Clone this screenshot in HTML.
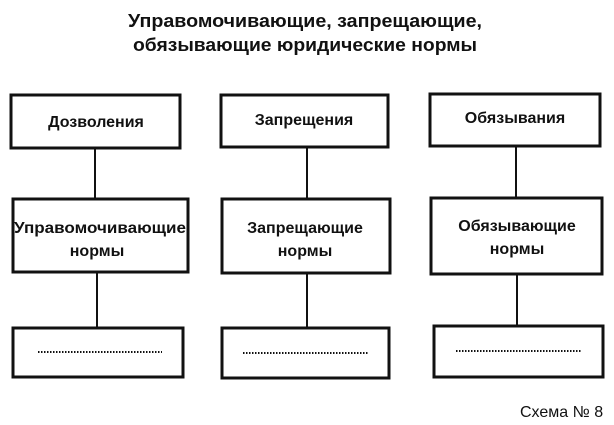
<!DOCTYPE html>
<html><head><meta charset="utf-8"><style>html,body{margin:0;padding:0;background:#fff}svg{display:block}</style></head>
<body>
<svg width="614" height="425" viewBox="0 0 614 425" xmlns="http://www.w3.org/2000/svg" font-family="Liberation Sans, sans-serif">
<g font-weight="bold" font-size="18" fill="#111" text-anchor="start">
<text x="128" y="27" textLength="354" lengthAdjust="spacingAndGlyphs">Управомочивающие, запрещающие,</text>
<text x="133" y="51" textLength="344" lengthAdjust="spacingAndGlyphs">обязывающие юридические нормы</text>
</g>
<g fill="none" stroke="#111" stroke-width="3">
<rect x="11" y="95" width="169" height="53"/>
<rect x="13" y="199" width="175" height="73"/>
<rect x="13" y="328" width="170" height="49"/>
<rect x="221" y="95" width="167" height="52"/>
<rect x="222" y="199" width="168" height="74"/>
<rect x="222" y="328" width="167" height="50"/>
<rect x="430" y="94" width="170" height="52"/>
<rect x="431" y="198" width="171" height="76"/>
<rect x="434" y="326" width="169" height="51"/>
</g>
<g stroke="#111" stroke-width="2">
<line x1="95" y1="148" x2="95" y2="199"/>
<line x1="97" y1="272" x2="97" y2="328"/>
<line x1="307" y1="147" x2="307" y2="199"/>
<line x1="307" y1="273" x2="307" y2="328"/>
<line x1="516" y1="146" x2="516" y2="198"/>
<line x1="517" y1="274" x2="517" y2="326"/>
</g>
<g stroke="#111" stroke-width="2" stroke-dasharray="1.5 1.5">
<line x1="38" y1="352" x2="162" y2="352"/>
<line x1="243" y1="353" x2="368" y2="353"/>
<line x1="456" y1="351" x2="582" y2="351"/>
</g>
<g font-weight="bold" font-size="16" fill="#111" text-anchor="middle">
<text x="96" y="127">Дозволения</text>
<text x="304" y="125">Запрещения</text>
<text x="515" y="123">Обязывания</text>
<text x="100" y="233" textLength="172" lengthAdjust="spacingAndGlyphs">Управомочивающие</text>
<text x="97" y="256">нормы</text>
<text x="305" y="233">Запрещающие</text>
<text x="305" y="256">нормы</text>
<text x="517" y="231">Обязывающие</text>
<text x="517" y="254">нормы</text>
</g>
<text x="520" y="417" font-size="16" fill="#111">Схема № 8</text>
</svg>
</body></html>
